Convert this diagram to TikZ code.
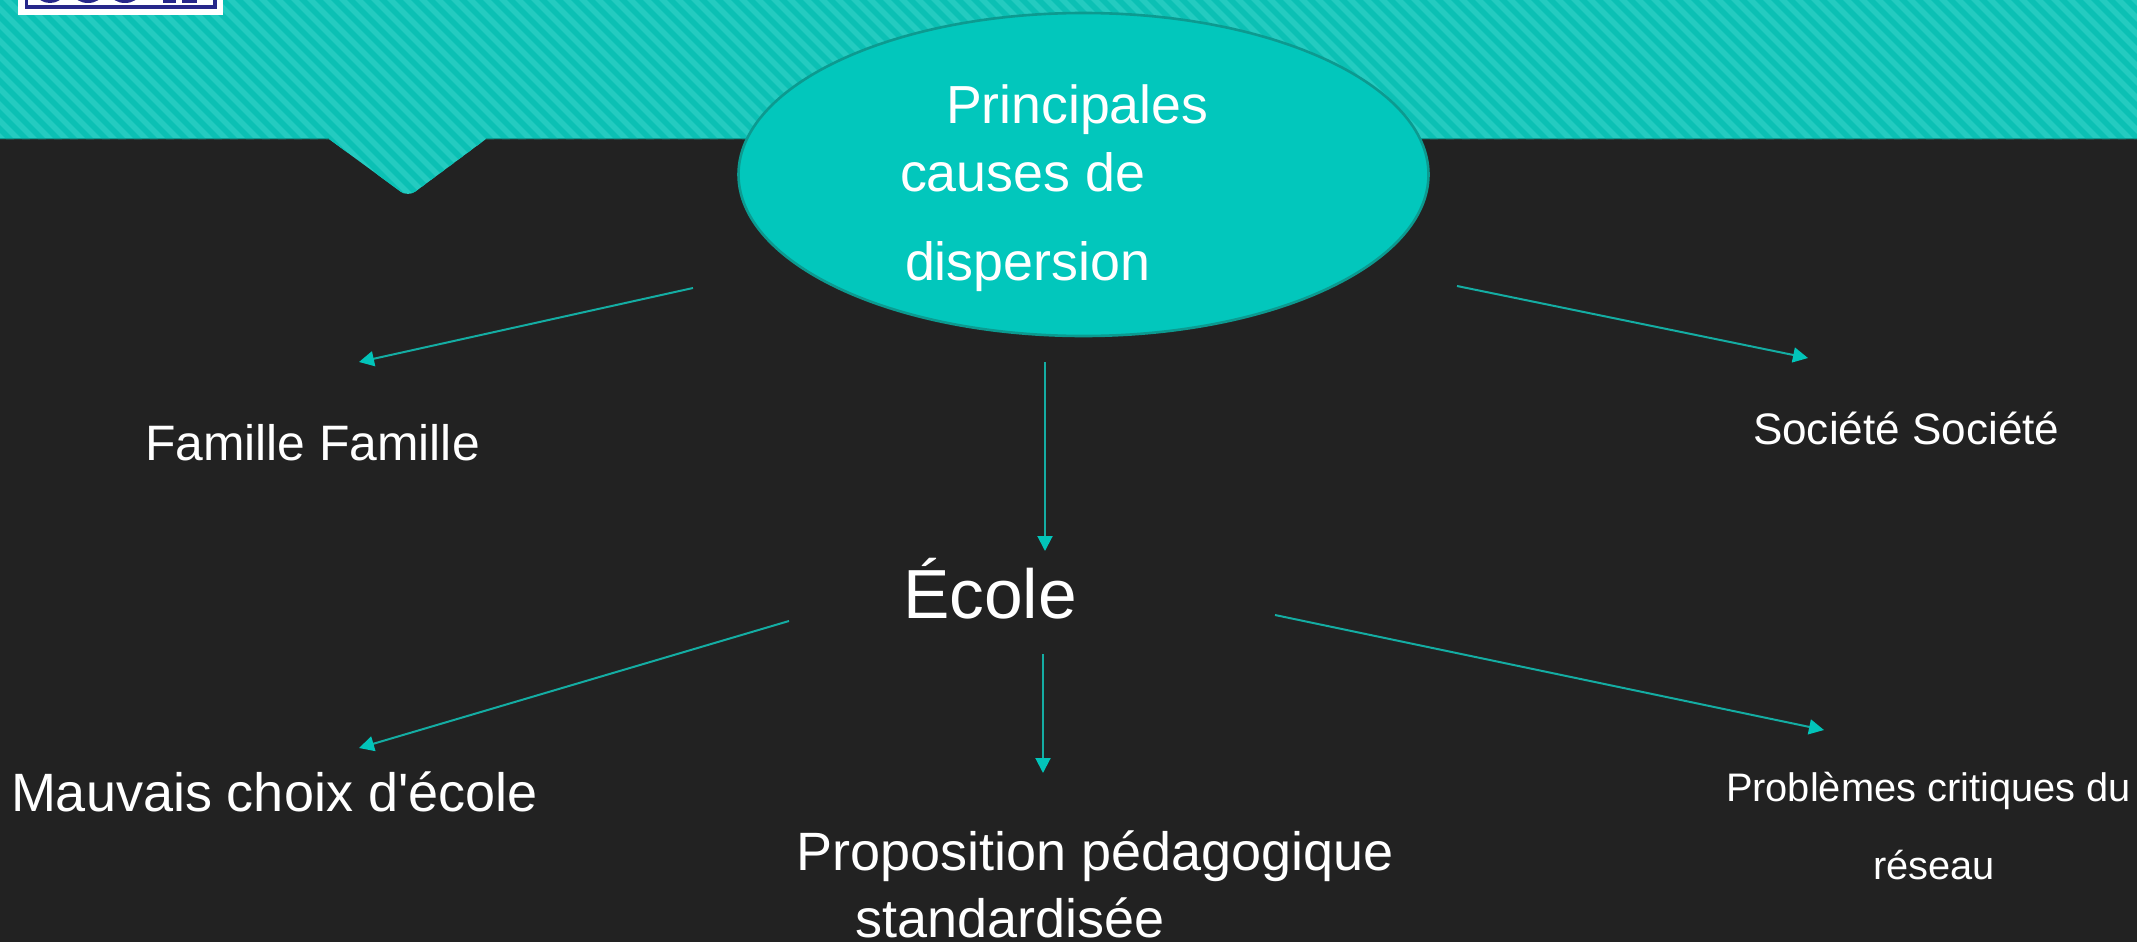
\documentclass[tikz,border=0pt]{standalone}
\usepackage{fontspec}
\setmainfont{Liberation Sans}
\newfontfamily\straightfont{Liberation Sans}
\usetikzlibrary{arrows.meta,shapes.geometric}
\definecolor{bgdark}{HTML}{222222}
\definecolor{tealA}{HTML}{24CBC0}
\definecolor{tealB}{HTML}{0BC0B4}
\definecolor{tealFill}{HTML}{02C7BC}
\definecolor{tealEdge}{HTML}{0C9A90}
\definecolor{tealLine}{HTML}{14ADA3}
\definecolor{tealHead}{HTML}{02C4B9}
\definecolor{logoNavy}{HTML}{26278A}
\tikzset{
  lab/.style={anchor=base west,inner sep=0pt,outer sep=0pt,text=white},
  conn/.style={draw=tealLine,line width=2pt,-{Triangle[length=15pt,width=15pt,fill=tealHead,color=tealHead]}},
}
\newcommand{\fs}[1]{\fontsize{#1}{#1}\selectfont}
\begin{document}
\begin{tikzpicture}[x=1pt,y=-1pt]
\useasboundingbox (0,0) rectangle (2137,942);
\fill[bgdark] (0,0) rectangle (2137,942);
% banner
\begin{scope}
\clip (0,0) -- (2137,0) -- (2137,139) -- (486,139) [rounded corners=9pt] -- (408,197) [sharp corners] -- (329,139) -- (0,139) -- cycle;
\fill[tealA] (0,0) rectangle (2137,200);
\foreach \k in {-230,-214,...,2150}
  \draw[tealB,line width=5.6pt] (\k,-5) -- (\k+210,205);
\end{scope}
\draw[tealEdge,line width=1.2pt] (0,138.6) -- (329,138.6);
\draw[tealEdge,line width=1.2pt] (486,138.6) -- (2137,138.6);
% logo
\fill[white] (18,-2) rectangle (223,15);
\fill[logoNavy] (25,-2) rectangle (217,9);
\fill[white] (28,-2) rectangle (213,5.5);
\begin{scope}
\clip (28,0) rectangle (213,3);
\fill[logoNavy] (50,-6) ellipse (13 and 9);
\fill[logoNavy] (88,-6) ellipse (14 and 9);
\fill[logoNavy] (125,-6) ellipse (14 and 9);
\fill[logoNavy] (163,-3) rectangle (176,3);
\fill[logoNavy] (182,-3) rectangle (197,3);
\end{scope}
% ellipse
\node[ellipse,draw=tealEdge,fill=tealFill,line width=2.6pt,minimum width=690pt,minimum height=323pt,inner sep=0pt] (causes) at (1083.5,174.5) {};
% labels
\node[lab,font=\fs{53.6}] (t1) at (946,123) {Principales};
\node[lab,font=\fs{53.8}] (t2) at (900,191) {causes de};
\node[lab,font=\fs{53.8}] (t3) at (905,280) {dispersion};
\node[lab,font=\fs{49.8}] (famille) at (145,460) {Famille Famille};
\node[lab,font=\fs{69.5}] (ecole) at (903,618) {École};
\node[lab,font=\fs{44.1}] (societe) at (1753,444) {Société Société};
\node[lab,font=\straightfont\fs{54}] (mauvais) at (11,811) {Mauvais choix d'école};
\node[lab,font=\fs{54}] (prop1) at (796,870) {Proposition pédagogique};
\node[lab,font=\fs{54}] (prop2) at (855,937) {standardisée};
\node[lab,font=\fs{39.8}] (prob1) at (1726,801) {Problèmes critiques du};
\node[lab,font=\fs{39.8}] (prob2) at (1873,879) {réseau};
% connector ends
\coordinate (a1s) at (693,288); \coordinate (a1e) at (359,362);
\coordinate (a2s) at (1045,362); \coordinate (a2e) at (1045,551);
\coordinate (a3s) at (789,621); \coordinate (a3e) at (359,748);
\coordinate (a4s) at (1043,654); \coordinate (a4e) at (1043,773);
\coordinate (a5s) at (1457,286); \coordinate (a5e) at (1808,358);
\coordinate (a6s) at (1275,615); \coordinate (a6e) at (1824,730);
\foreach \n in {1,...,6} \draw[conn] (a\n s) -- (a\n e);
\end{tikzpicture}
\end{document}
